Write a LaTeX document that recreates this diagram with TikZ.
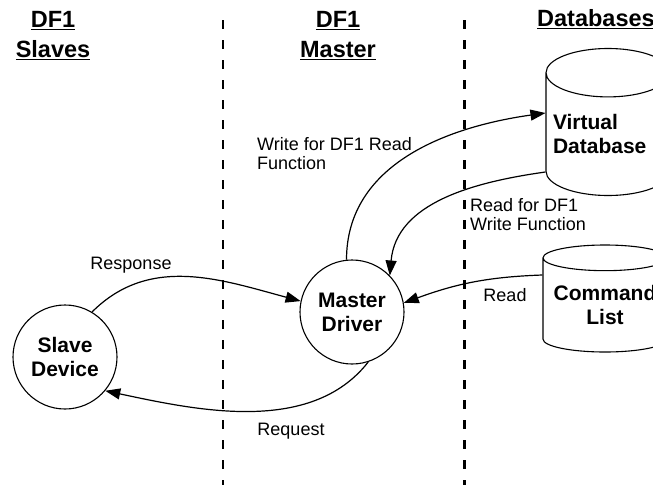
\documentclass[tikz,border=0pt]{standalone}
\usepackage{fontspec}
\setmainfont{Liberation Sans}
\usetikzlibrary{arrows.meta,shapes.geometric}
\tikzset{
  proc/.style  = {draw, circle, line width=1.1pt, minimum size=104pt, inner sep=0pt,
                  align=center, font=\bfseries\fontsize{21}{24}\selectfont},
  store/.style = {draw, cylinder, shape border rotate=90, line width=1.1pt,
                  minimum width=124pt, inner sep=0pt, anchor=shape center,
                  font=\bfseries\fontsize{21}{24}\selectfont},
  head/.style  = {inner sep=0pt, align=center,
                  font=\bfseries\fontsize{23.5}{30}\selectfont},
  lbl/.style   = {inner sep=0pt, align=left, font=\fontsize{18}{19}\selectfont},
  e/.style     = {-{Triangle[length=15pt,width=11pt]}, line width=1.2pt},
  lane/.style  = {line width=1.1pt, dash pattern=on 9pt off 11pt},
  wall/.style  = {line width=3pt, dash pattern=on 9pt off 11pt}
}

\begin{document}
\begin{tikzpicture}[x=1pt, y=-1pt]
  \useasboundingbox (0,0) rectangle (653,485);
  % lanes
  \draw[lane] (223,20) -- (223,485);
  \draw[wall] (464,20) -- (464,485);
  % headings
  \node[head] (hslaves) at (53,36) {\underline{DF1}\\\underline{Slaves}};
  \node[head] (hmaster) at (338,36) {\underline{DF1}\\\underline{Master}};
  \node[head, anchor=west] (hdb) at (537,19) {\underline{Databases}};
  % nodes
  \node[proc] (slave) at (65,357) {Slave\\Device};
  \node[proc] (master) at (352,312) {Master\\Driver};
  \node[store, minimum height=147pt, aspect=0.44, text width=110pt, align=left] (vdb) at (608,122) {Virtual\\Database};
  \node[store, minimum height=107pt, aspect=0.25, align=center] (cmd) at (605,298.5) {Command\\List};
  % connectors
  \draw[e] (slave.59) to[out=45,in=165] (master.168);
  \draw[e] (master.-72) to[out=-128,in=-12,looseness=0.9] (slave.-40);
  \draw[e] (master.96) to[out=90,in=188] (vdb.west |- 0,113);
  \draw[e] (vdb.west |- 0,172) to[out=188,in=85] (master.44);
  \draw[e] (cmd.west |- 0,275) to[out=182,in=20] (master.10);
  % labels
  \node[lbl] (lresp) at (131,265) {Response};
  \node[lbl] (lreq) at (291,431) {Request};
  \node[lbl] (lread) at (505,295) {Read};
  \node[lbl, anchor=west] (lwrite) at (257,154) {Write for DF1 Read\\Function};
  \node[lbl, anchor=west] (lrdwr) at (470,215) {Read for DF1\\Write Function};
\end{tikzpicture}
\end{document}
